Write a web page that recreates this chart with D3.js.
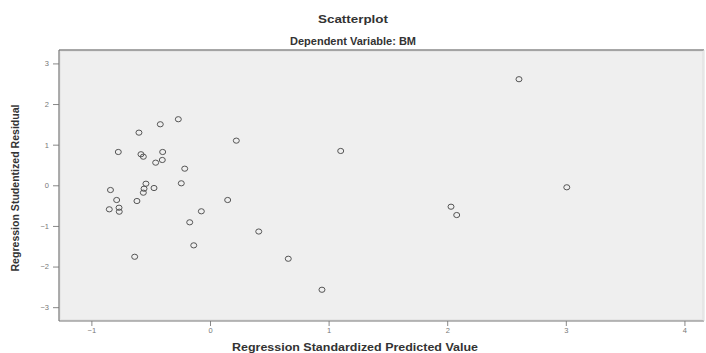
<!DOCTYPE html>
<html><head><meta charset="utf-8">
<script src="https://cdn.jsdelivr.net/npm/d3@7"></script>
<style>
body{margin:0;background:#fff;}
svg{display:block;}
</style></head>
<body>
<svg id="chart" width="706" height="353"></svg>
<script>
const titleText = "Scatterplot";
const subtitleText = "Dependent Variable: BM";
const xLabel = "Regression Standardized Predicted Value";
const yLabel = "Regression Studentized Residual";
const xTicks = [-1, 0, 1, 2, 3, 4];
const yTicks = [-3, -2, -1, 0, 1, 2, 3];
const predicted = [-0.267,-0.419,-0.599,0.222,-0.773,-0.582,-0.562,-0.399,-0.402,-0.458,-0.213,-0.242,-0.839,-0.540,-0.472,-0.556,-0.562,-0.787,-0.616,0.149,-0.849,-0.767,-0.765,-0.073,-0.171,0.411,-0.137,-0.635,1.102,0.660,0.944,2.605,3.008,2.032,2.080];
const residual = [1.626,1.502,1.296,1.099,0.820,0.764,0.704,0.820,0.623,0.557,0.409,0.049,-0.116,0.039,-0.067,-0.084,-0.182,-0.362,-0.387,-0.362,-0.591,-0.552,-0.650,-0.640,-0.911,-1.138,-1.478,-1.759,0.845,-1.808,-2.571,2.611,-0.049,-0.527,-0.732];

const svg = d3.select("#chart");
const L = 59, R = 704, T = 50, B = 321;
const x = d3.scaleLinear().domain([-1.273, 4.165]).range([L, R]);
const y = d3.scaleLinear().domain([-3.34, 3.33]).range([B, T]);

svg.append("rect").attr("x", L).attr("y", T).attr("width", R - L).attr("height", B - T)
  .attr("fill", "#efefef");
svg.append("rect").attr("x", L + 1.5).attr("y", T + 1.5).attr("width", R - L - 3).attr("height", B - T - 3)
  .attr("fill", "none").attr("stroke", "#e6e6e6").attr("stroke-width", 1);

const xAxis = svg.append("g").attr("transform", `translate(0,${B})`)
  .call(d3.axisBottom(x).tickValues(xTicks).tickSize(5).tickPadding(2).tickFormat(d3.format("d")));
const yAxis = svg.append("g").attr("transform", `translate(${L},0)`)
  .call(d3.axisLeft(y).tickValues(yTicks).tickSize(6).tickPadding(4).tickFormat(d3.format("d")));
[xAxis, yAxis].forEach(g => {
  g.select(".domain").remove();
  g.selectAll(".tick line").attr("stroke", "#888");
  g.selectAll(".tick text").attr("fill", "#777").attr("font-size", 7.5)
    .attr("font-family", "Liberation Sans, Arial, sans-serif");
});

// frame
svg.append("line").attr("x1", L).attr("x2", R).attr("y1", T).attr("y2", T).attr("stroke", "#8a8a8a").attr("stroke-width", 1.5);
svg.append("line").attr("x1", L).attr("x2", L).attr("y1", T).attr("y2", B).attr("stroke", "#777").attr("stroke-width", 1.2);
svg.append("line").attr("x1", L).attr("x2", R).attr("y1", B).attr("y2", B).attr("stroke", "#777").attr("stroke-width", 1.2);
svg.append("line").attr("x1", R).attr("x2", R).attr("y1", T).attr("y2", B).attr("stroke", "#dcdcdc").attr("stroke-width", 1);

const pts = predicted.map((p, i) => ({p, r: residual[i]}));
svg.append("g").selectAll("ellipse").data(pts).join("ellipse")
  .attr("cx", d => x(d.p)).attr("cy", d => y(d.r)).attr("rx", 3).attr("ry", 2.6)
  .attr("fill", "none").attr("stroke", "#555").attr("stroke-width", 1);

svg.append("text").attr("x", 353).attr("y", 23).attr("text-anchor", "middle")
  .attr("font-family", "Liberation Sans, Arial, sans-serif").attr("font-weight", "bold")
  .attr("font-size", 11).attr("fill", "#333")
  .attr("textLength", 70).attr("lengthAdjust", "spacingAndGlyphs").text(titleText);
svg.append("text").attr("x", 353).attr("y", 45).attr("text-anchor", "middle")
  .attr("font-family", "Liberation Sans, Arial, sans-serif").attr("font-weight", "bold")
  .attr("font-size", 11).attr("fill", "#333")
  .attr("textLength", 126).attr("lengthAdjust", "spacingAndGlyphs").text(subtitleText);
svg.append("text").attr("x", 355).attr("y", 351).attr("text-anchor", "middle")
  .attr("font-family", "Liberation Sans, Arial, sans-serif").attr("font-weight", "bold")
  .attr("font-size", 11).attr("fill", "#333")
  .attr("textLength", 246).attr("lengthAdjust", "spacingAndGlyphs").text(xLabel);
svg.append("text").attr("transform", "translate(19,188) rotate(-90)").attr("text-anchor", "middle")
  .attr("font-family", "Liberation Sans Narrow, Liberation Sans, Arial, sans-serif").attr("font-weight", "bold")
  .attr("font-size", 10.5).attr("fill", "#333")
  .attr("textLength", 167).attr("lengthAdjust", "spacingAndGlyphs").text(yLabel);
</script>
</body></html>
